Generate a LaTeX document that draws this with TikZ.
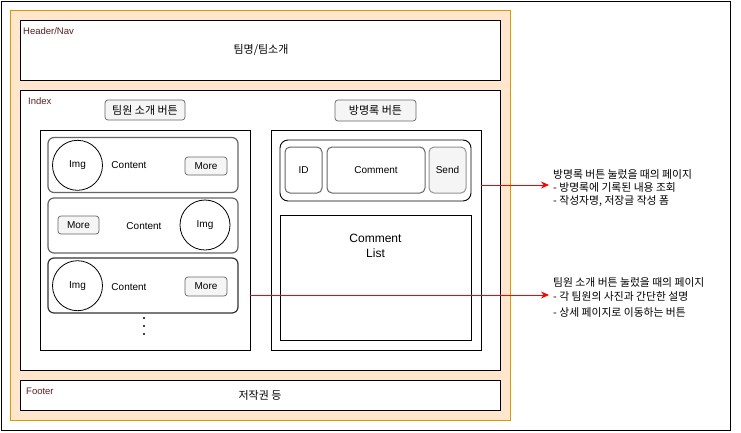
\documentclass[tikz,border=0pt]{standalone}
\usepackage{fontspec}
\setmainfont{Liberation Sans}
\newfontfamily\kr{Noto Sans CJK KR}
\usetikzlibrary{arrows.meta}
\definecolor{peach}{RGB}{255,230,204}
\definecolor{amber}{RGB}{215,155,0}
\definecolor{btngray}{RGB}{245,245,245}
\definecolor{edgegray}{RGB}{102,102,102}
\definecolor{lblred}{RGB}{90,30,30}

\begin{document}
\begin{tikzpicture}[x=1pt,y=-1pt,
  box/.style={draw,line width=0.9pt,fill=white,inner sep=0pt},
  card/.style={draw=edgegray,line width=1.2pt,rounded corners=6pt,inner sep=0pt,minimum width=190pt,minimum height=55pt},
  btn/.style={draw=edgegray,fill=btngray,rounded corners=3pt,line width=0.7pt,inner sep=0pt,font=\fontsize{10}{12}\selectfont},
  img/.style={draw,circle,minimum size=50pt,inner sep=0pt,line width=0.8pt,font=\fontsize{10}{12}\selectfont},
  txt/.style={inner sep=0pt,font=\fontsize{10}{12}\selectfont},
  lbl/.style={anchor=base west,inner sep=0pt,text=lblred,font=\fontsize{9.5}{11}\selectfont},
  note/.style={anchor=base west,inner sep=0pt,align=left},
  link/.style={red,line width=0.8pt,-{Stealth[length=8pt,width=7pt]}}]
\useasboundingbox (0,0) rectangle (741,432);
% frames
\node[draw,line width=0.9pt,minimum width=729pt,minimum height=429pt,inner sep=0pt] (page) at (365.5,215.5) {};
\node[draw=amber,fill=peach,line width=0.9pt,minimum width=500pt,minimum height=410pt,inner sep=0pt] (site) at (260,215) {};
\node[box,minimum width=480pt,minimum height=60pt] (header) at (260,50) {};
\node[box,minimum width=480pt,minimum height=280pt] (index) at (260,230) {};
\node[box,minimum width=480pt,minimum height=30pt] (footer) at (260,395) {};
\node[lbl] (headerlbl) at (23,34) {Header/Nav};
\node[lbl] (indexlbl) at (28,104) {Index};
\node[lbl] (footerlbl) at (26,394) {Footer};
\node[inner sep=0pt,font=\kr\fontsize{11}{13}\selectfont] (teamname) at (261,50) {팀명/팀소개};
\node[inner sep=0pt,font=\kr\fontsize{11}{13}\selectfont] (copyright) at (260,395) {저작권 등};

% index buttons
\node[btn,minimum width=80pt,minimum height=20pt,font=\kr\fontsize{11}{13}\selectfont] (teambtn) at (145,110) {팀원 소개 버튼};
\node[btn,minimum width=81pt,minimum height=21pt,font=\kr\fontsize{11}{13}\selectfont] (gbbtn) at (375.5,110.5) {방명록 버튼};

% team panel
\node[box,minimum width=210pt,minimum height=220pt] (teampanel) at (145,240) {};
\node[card] (card1) at (143,165) {};
\node[card] (card2) at (143,225.5) {};
\node[card,draw=black!80] (card3) at (143,285.5) {};
\node[img] (img1) at (77.5,165.3) {Img};
\node[txt] (content1) at (129,165) {Content};
\node[btn,minimum width=42pt,minimum height=18pt] (more1) at (206,166) {More};
\node[btn,minimum width=41pt,minimum height=18pt] (more2) at (78.5,225) {More};
\node[txt] (content2) at (144,226) {Content};
\node[img] (img2) at (205,225) {Img};
\node[img] (img3) at (77.5,285.7) {Img};
\node[txt] (content3) at (129,287) {Content};
\node[btn,minimum width=42pt,minimum height=19pt] (more3) at (206,286.5) {More};
\foreach \y in {318,326,334}
  \fill (144,\y) circle (1.1pt);

% guestbook panel
\node[box,minimum width=210pt,minimum height=220pt] (gbpanel) at (376,240) {};
\node[draw,line width=0.9pt,rounded corners=8pt,minimum width=191pt,minimum height=61pt,inner sep=0pt] (form) at (375.5,170.5) {};
\node[draw=edgegray,line width=1pt,rounded corners=5pt,minimum width=37pt,minimum height=46pt,inner sep=0pt,font=\fontsize{10}{12}\selectfont] (idbox) at (303.5,170) {ID};
\node[draw=edgegray,line width=1pt,rounded corners=5pt,minimum width=98pt,minimum height=46pt,inner sep=0pt,font=\fontsize{10}{12}\selectfont] (commentbox) at (376,170) {Comment};
\node[draw=edgegray!70,fill=btngray,line width=1pt,rounded corners=5pt,minimum width=37pt,minimum height=46pt,inner sep=0pt,font=\fontsize{10}{12}\selectfont] (sendbox) at (447.5,170) {Send};
\node[draw,line width=0.9pt,minimum width=191pt,minimum height=125pt,inner sep=0pt] (listbox) at (375.5,277.5) {};
\node[anchor=north,align=center,inner sep=0pt,font=\fontsize{12}{15}\selectfont] (listtxt) at (listbox.north) [yshift=-19pt] {Comment\\List};

% notes
\coordinate (gbnote) at (549,185);
\coordinate (teamnote) at (549,295);
\draw[link] (gbpanel.east |- gbnote) -- (gbnote);
\draw[link] (teampanel.east |- teamnote) -- (teamnote);
\node[note,font=\kr\fontsize{10.8}{13}\selectfont] (gbtext) at (553,204) {방명록 버튼 눌렀을 때의 페이지\\- 방명록에 기록된 내용 조회\\- 작성자명, 저장글 작성 폼};
\node[note,font=\kr\fontsize{10.8}{14}\selectfont] (teamtext) at (553,316) {팀원 소개 버튼 눌렀을 때의 페이지\\- 각 팀원의 사진과 간단한 설명\\[2pt]- 상세 페이지로 이동하는 버튼};
\end{tikzpicture}
\end{document}
